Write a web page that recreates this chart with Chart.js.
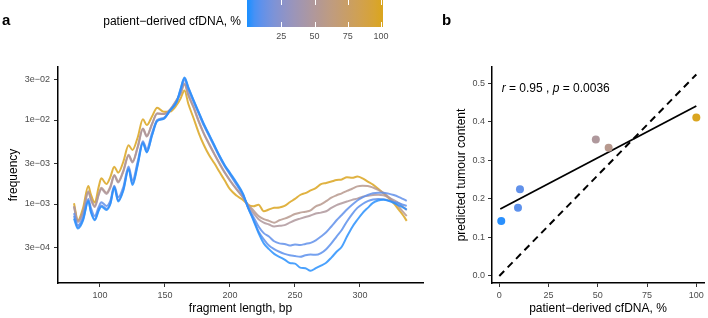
<!DOCTYPE html>
<html>
<head>
<meta charset="utf-8">
<script src="https://cdn.jsdelivr.net/npm/chart.js@4/dist/chart.umd.min.js"></script>
<style>
  body { margin: 0; background: #fff; width: 708px; height: 318px; overflow: hidden; position: relative; }
  #wrapA { position: absolute; left: 0; top: 0; width: 440px; height: 318px; }
  #wrapB { position: absolute; left: 440px; top: 0; width: 268px; height: 318px; }
</style>
</head>
<body>
<div id="wrapA"><canvas id="chartA" width="440" height="318"></canvas></div>
<div id="wrapB"><canvas id="chartB" width="268" height="318"></canvas></div>
<script>
// ---- data (panel a): fragment length vs frequency (values x 1e-3) ----
const bp = [80, 83, 87, 91, 93, 96, 99, 101, 105, 108,
            111, 114, 118, 122, 125, 129, 133, 136, 140, 144,
            149, 154, 159, 162, 165, 168, 172, 176, 180, 184,
            188, 192, 196, 200, 205, 210, 214, 218, 222, 226,
            230, 234, 238, 242, 246, 250, 254, 258, 262, 266,
            270, 274, 278, 282, 286, 290, 294, 298, 302, 306,
            310, 314, 318, 322, 326, 330, 333, 336];

const freq0 = [0.67, 0.51, 0.64, 1.08, 0.8, 0.64, 0.83, 0.93, 0.85, 1.0,
               1.58, 1.07, 1.45, 2.6, 1.68, 2.9, 5.3, 4.1, 6.5, 9.7,
               10.3, 13.1, 16.6, 23.5, 32.0, 24.5, 17.3, 12.4, 8.9, 6.7,
               5.0, 3.75, 2.9, 2.35, 1.8, 1.33, 0.9, 0.64, 0.45, 0.34,
               0.29, 0.255, 0.235, 0.218, 0.198, 0.195, 0.175, 0.172, 0.16, 0.172,
               0.185, 0.2, 0.23, 0.27, 0.31, 0.41, 0.53, 0.65, 0.78, 0.9,
               1.03, 1.1, 1.12, 1.09, 1.03, 0.96, 0.91, 0.86];
const freq9 = [0.72, 0.53, 0.66, 1.1, 0.82, 0.66, 0.86, 0.96, 0.88, 1.02,
               1.6, 1.1, 1.5, 2.65, 1.75, 3.0, 5.4, 4.2, 6.6, 9.8,
               10.4, 13.0, 16.5, 23.0, 31.5, 24.0, 17.0, 12.2, 8.8, 6.6,
               4.95, 3.7, 2.85, 2.3, 1.75, 1.3, 0.9, 0.66, 0.47, 0.38,
               0.32, 0.29, 0.27, 0.255, 0.245, 0.24, 0.235, 0.245, 0.25, 0.248,
               0.26, 0.29, 0.34, 0.41, 0.49, 0.62, 0.76, 0.9, 1.0, 1.08,
               1.13, 1.15, 1.14, 1.1, 1.06, 1.02, 0.98, 0.95];
const freq10 = [0.78, 0.56, 0.7, 1.15, 0.9, 0.72, 0.92, 1.05, 0.95, 1.1,
                1.65, 1.2, 1.6, 2.8, 1.9, 3.2, 5.6, 4.5, 7.0, 10.0,
                10.6, 13.0, 16.5, 22.0, 30.0, 23.0, 16.5, 11.8, 8.5, 6.4,
                4.8, 3.6, 2.8, 2.25, 1.7, 1.28, 0.9, 0.7, 0.54, 0.45,
                0.41, 0.36, 0.34, 0.335, 0.32, 0.33, 0.325, 0.335, 0.345, 0.37,
                0.41, 0.46, 0.54, 0.64, 0.74, 0.86, 0.98, 1.1, 1.2, 1.28,
                1.34, 1.36, 1.36, 1.33, 1.28, 1.21, 1.15, 1.09];
const freq49 = [0.92, 0.61, 0.79, 1.38, 1.13, 0.92, 1.28, 1.51, 1.32, 1.57,
                2.17, 1.8, 2.45, 3.75, 3.12, 4.7, 7.8, 6.35, 8.9, 11.9,
                11.8, 13.4, 17.4, 21.0, 27.3, 20.0, 14.3, 9.7, 6.9, 5.2,
                3.95, 3.05, 2.38, 1.92, 1.5, 1.2, 0.95, 0.78, 0.66, 0.6,
                0.57, 0.54, 0.55, 0.56, 0.6, 0.64, 0.67, 0.7, 0.73, 0.77,
                0.79, 0.82, 0.9, 0.97, 1.02, 1.07, 1.12, 1.16, 1.22, 1.25,
                1.28, 1.29, 1.27, 1.2, 1.11, 1.02, 0.93, 0.85];
const freq55 = [0.95, 0.63, 0.82, 1.42, 1.16, 0.95, 1.32, 1.56, 1.36, 1.62,
                2.22, 1.86, 2.5, 3.85, 3.2, 4.8, 7.9, 6.5, 9.0, 12.0,
                11.8, 13.3, 17.2, 20.5, 26.5, 19.5, 14.0, 9.5, 6.8, 5.1,
                3.9, 3.0, 2.35, 1.9, 1.5, 1.2, 0.98, 0.84, 0.72, 0.66,
                0.63, 0.6, 0.64, 0.67, 0.71, 0.76, 0.79, 0.81, 0.84, 0.94,
                0.99, 1.08, 1.19, 1.27, 1.34, 1.43, 1.52, 1.62, 1.65, 1.64,
                1.57, 1.47, 1.36, 1.21, 1.06, 0.92, 0.81, 0.72];
const freq100 = [1.02, 0.64, 0.9, 1.64, 1.3, 1.04, 1.6, 2.02, 1.73, 2.1,
                 2.78, 2.36, 3.2, 5.0, 4.4, 6.2, 10.2, 8.7, 11.0, 14.0,
                 12.5, 12.6, 15.1, 18.0, 22.5, 15.5, 10.5, 7.0, 5.0, 3.8,
                 3.05, 2.4, 1.9, 1.5, 1.26, 1.12, 0.98, 0.94, 0.98, 0.82,
                 0.86, 0.9, 0.91, 0.95, 1.05, 1.15, 1.28, 1.35, 1.45, 1.55,
                 1.72, 1.78, 1.85, 1.93, 1.96, 2.08, 2.05, 2.12, 2.02, 1.85,
                 1.7, 1.52, 1.34, 1.18, 1.02, 0.85, 0.74, 0.63];

const yTicksA = [3e-4, 1e-3, 3e-3, 1e-2, 3e-2];
const yTickLabelsA = ['3e\u221204', '1e\u221203', '3e\u221203', '1e\u221202', '3e\u221202'];
const xTicksA = [100, 150, 200, 250, 300];
const cbarTicks = [25, 50, 75, 100];

// ---- data (panel b) ----
const cfdnaPct = [1, 9.5, 10.5, 49, 55.5, 100];
const predicted = [0.143, 0.177, 0.225, 0.354, 0.333, 0.411];
const fitX = [0.5, 100];
const fitY = [0.174, 0.441];
const refX = [0, 100];
const refY = [0, 0.523];
const xTicksB = [0, 25, 50, 75, 100];
const yTicksB = [0, 0.1, 0.2, 0.3, 0.4, 0.5];

const sampleFreqs = [freq0, freq9, freq10, freq49, freq55, freq100];

const FONT = '"Liberation Sans", Arial, sans-serif';

// colour scale dodgerblue -> goldenrod, interpolated in Lab like ggplot
function toLab(rgb) {
    const lin = rgb.map(c => { c /= 255; return c <= 0.04045 ? c / 12.92 : Math.pow((c + 0.055) / 1.055, 2.4); });
    const X = (0.4124 * lin[0] + 0.3576 * lin[1] + 0.1805 * lin[2]) / 0.95047;
    const Y = 0.2126 * lin[0] + 0.7152 * lin[1] + 0.0722 * lin[2];
    const Z = (0.0193 * lin[0] + 0.1192 * lin[1] + 0.9505 * lin[2]) / 1.08883;
    const f = t => t > 0.008856 ? Math.cbrt(t) : 7.787 * t + 16 / 116;
    return [116 * f(Y) - 16, 500 * (f(X) - f(Y)), 200 * (f(Y) - f(Z))];
}
function fromLab(lab) {
    const fy = (lab[0] + 16) / 116, fx = fy + lab[1] / 500, fz = fy - lab[2] / 200;
    const inv = t => t * t * t > 0.008856 ? t * t * t : (t - 16 / 116) / 7.787;
    const X = inv(fx) * 0.95047, Y = inv(fy), Z = inv(fz) * 1.08883;
    const r = 3.2406 * X - 1.5372 * Y - 0.4986 * Z;
    const g = -0.9689 * X + 1.8758 * Y + 0.0415 * Z;
    const b = 0.0557 * X - 0.2040 * Y + 1.0570 * Z;
    return [r, g, b].map(c => {
        c = c <= 0.0031308 ? 12.92 * c : 1.055 * Math.pow(c, 1 / 2.4) - 0.055;
        return Math.round(Math.max(0, Math.min(1, c)) * 255);
    });
}
const LAB_LOW = toLab([30, 144, 255]);
const LAB_HIGH = toLab([218, 165, 32]);
function cfdnaColor(p, alpha = 1) {
    const t = p / 100;
    const [r, g, b] = fromLab(LAB_LOW.map((v, i) => v + (LAB_HIGH[i] - v) * t));
    return `rgba(${r},${g},${b},${alpha})`;
}

function axisStyle(extra) {
    return Object.assign({
        type: 'linear',
        border: { display: true, color: '#000', width: 1.5 },
        grid: { display: true, drawOnChartArea: false, drawTicks: true, tickLength: 4, tickColor: '#333', tickWidth: 1 },
        ticks: { color: '#4d4d4d', font: { family: FONT, size: 9 }, padding: 3, autoSkip: false, maxRotation: 0 }
    }, extra);
}

// ---- panel a ----
const panelAExtras = {
    id: 'panelAExtras',
    afterDraw(chart) {
        const ctx = chart.ctx;
        ctx.save();
        ctx.fillStyle = '#000';
        ctx.textAlign = 'left';
        ctx.textBaseline = 'alphabetic';
        ctx.font = 'bold 15px ' + FONT;
        ctx.fillText('a', 2, 25);

        // colour bar legend
        const x0 = 248, x1 = 381, top = -4, bottom = 27;
        const pos = v => x0 + (x1 - x0) * v / 100;
        const grad = ctx.createLinearGradient(x0, 0, x1, 0);
        for (let i = 0; i <= 20; i++) grad.addColorStop(i / 20, cfdnaColor(i * 5));
        ctx.fillStyle = grad;
        ctx.fillRect(x0 - 1, top, x1 - x0 + 3, bottom - top);
        ctx.strokeStyle = '#fff';
        ctx.lineWidth = 1;
        cbarTicks.forEach(v => {
            const x = Math.round(pos(v)) + 0.5;
            ctx.beginPath();
            ctx.moveTo(x, 0); ctx.lineTo(x, 5);
            ctx.moveTo(x, bottom - 5); ctx.lineTo(x, bottom);
            ctx.stroke();
        });
        ctx.fillStyle = '#4d4d4d';
        ctx.font = '9px ' + FONT;
        ctx.textAlign = 'center';
        ctx.textBaseline = 'middle';
        cbarTicks.forEach(v => ctx.fillText(String(v), pos(v), 37));
        ctx.fillStyle = '#000';
        ctx.font = '12px ' + FONT;
        ctx.textAlign = 'right';
        ctx.fillText('patient\u2212derived cfDNA, %', 241, 22);
        ctx.restore();
    }
};

new Chart(document.getElementById('chartA'), {
    type: 'line',
    data: {
        datasets: sampleFreqs.map((arr, k) => ({
            label: cfdnaPct[k] + '%',
            data: bp.map((x, i) => ({ x, y: arr[i] / 1000 })),
            borderColor: cfdnaColor(cfdnaPct[k], 0.85),
            borderWidth: 2,
            pointRadius: 0,
            cubicInterpolationMode: 'monotone',
            fill: false
        }))
    },
    options: {
        responsive: false,
        animation: false,
        devicePixelRatio: 1,
        layout: { padding: { left: 0, top: 67, right: 17, bottom: 0 } },
        plugins: { legend: { display: false }, tooltip: { enabled: false } },
        scales: {
            x: axisStyle({
                min: 67.7, max: 348.5,
                afterBuildTicks: s => { s.ticks = xTicksA.map(v => ({ value: v })); },
                afterFit: s => { s.height = 35; },
                title: { display: true, text: 'fragment length, bp', color: '#000', font: { family: FONT, size: 12 }, padding: { top: 0, bottom: 2 } }
            }),
            y: axisStyle({
                type: 'logarithmic',
                min: 1.147e-4, max: 0.04277,
                afterBuildTicks: s => { s.ticks = yTicksA.map(v => ({ value: v })); },
                afterFit: s => { s.width = 58; },
                ticks: { color: '#4d4d4d', font: { family: FONT, size: 9 }, padding: 4, autoSkip: false,
                         callback: (v, i) => yTickLabelsA[i] },
                title: { display: true, text: 'frequency', color: '#000', font: { family: FONT, size: 12 }, padding: { top: 6, bottom: 0 } }
            })
        }
    },
    plugins: [panelAExtras]
});

// ---- panel b ----
const panelBExtras = {
    id: 'panelBExtras',
    afterDraw(chart) {
        const ctx = chart.ctx;
        const xs = chart.scales.x, ys = chart.scales.y;
        ctx.save();
        ctx.fillStyle = '#000';
        ctx.textAlign = 'left';
        ctx.textBaseline = 'alphabetic';
        ctx.font = 'bold 15px ' + FONT;
        ctx.fillText('b', 2, 25);

        // correlation label
        const parts = [['r', true], [' = 0.95 , ', false], ['p', true], [' = 0.0036', false]];
        let x = xs.getPixelForValue(1.2);
        const y = ys.getPixelForValue(0.485);
        ctx.textBaseline = 'middle';
        parts.forEach(([t, it]) => {
            ctx.font = (it ? 'italic ' : '') + '12px ' + FONT;
            ctx.fillText(t, x, y);
            x += ctx.measureText(t).width;
        });
        ctx.restore();
    }
};

new Chart(document.getElementById('chartB'), {
    type: 'scatter',
    data: {
        datasets: [
            {
                data: cfdnaPct.map((x, i) => ({ x, y: predicted[i] })),
                pointRadius: 4,
                pointBorderWidth: 0,
                pointBackgroundColor: cfdnaPct.map(p => cfdnaColor(p)),
                order: 0
            },
            {
                data: fitX.map((x, i) => ({ x, y: fitY[i] })),
                showLine: true, pointRadius: 0, borderColor: '#000', borderWidth: 1.8,
                order: 1
            },
            {
                data: refX.map((x, i) => ({ x, y: refY[i] })),
                showLine: true, pointRadius: 0, borderColor: '#000', borderWidth: 2,
                borderDash: [7, 5],
                order: 2
            }
        ]
    },
    options: {
        responsive: false,
        animation: false,
        devicePixelRatio: 1,
        layout: { padding: { left: 0, top: 67, right: 1, bottom: 0 } },
        plugins: { legend: { display: false }, tooltip: { enabled: false } },
        scales: {
            x: axisStyle({
                min: -3.7, max: 103.9,
                afterBuildTicks: s => { s.ticks = xTicksB.map(v => ({ value: v })); },
                afterFit: s => { s.height = 35; },
                title: { display: true, text: 'patient\u2212derived cfDNA, %', color: '#000', font: { family: FONT, size: 12 }, padding: { top: 0, bottom: 2 } }
            }),
            y: axisStyle({
                min: -0.0182, max: 0.5423,
                afterBuildTicks: s => { s.ticks = yTicksB.map(v => ({ value: v })); },
                afterFit: s => { s.width = 52; },
                ticks: { color: '#4d4d4d', font: { family: FONT, size: 9 }, padding: 3, autoSkip: false,
                         callback: v => v.toFixed(1) },
                title: { display: true, text: 'predicted tumour content', color: '#000', font: { family: FONT, size: 12 }, padding: { top: 14.5, bottom: 0 } }
            })
        }
    },
    plugins: [panelBExtras]
});
</script>
</body>
</html>
